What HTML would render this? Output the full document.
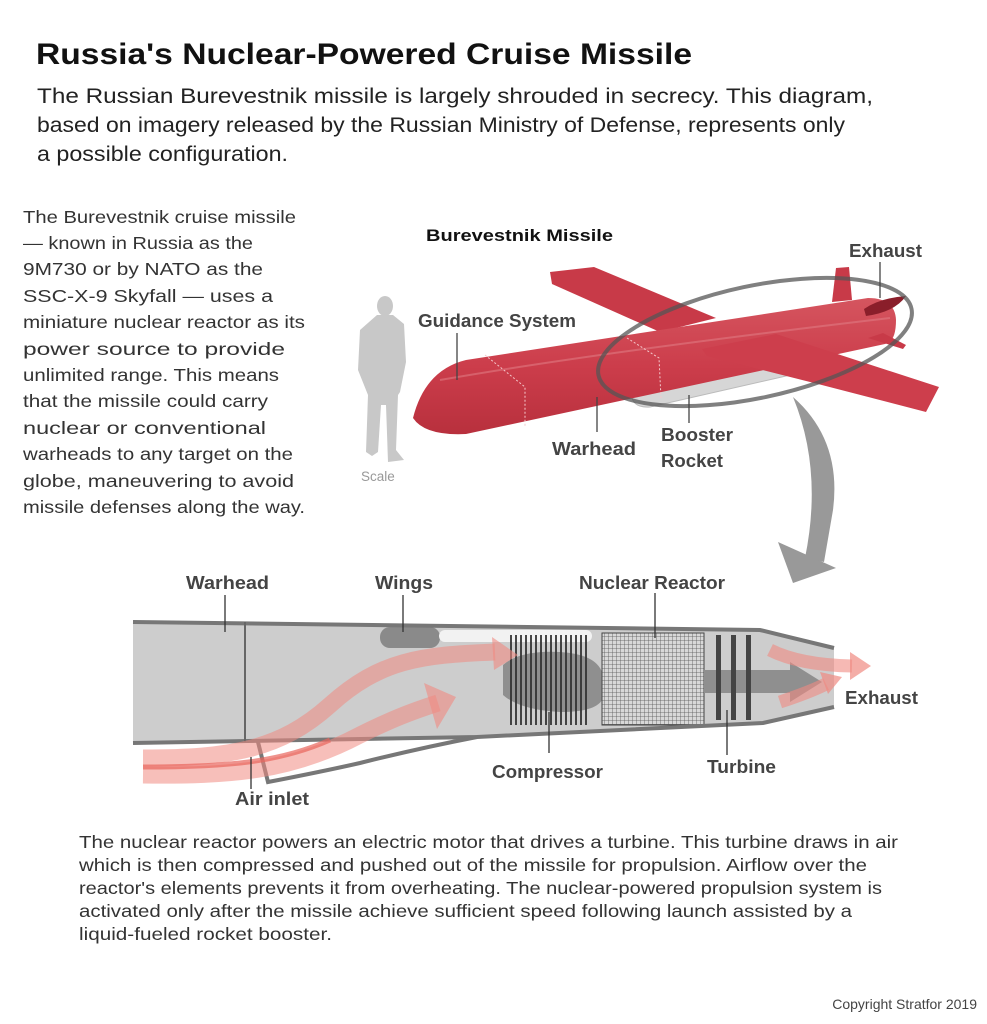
<!DOCTYPE html>
<html><head><meta charset="utf-8"><style>
html,body{margin:0;padding:0;background:#fff;}
svg{display:block;}
text{font-family:"Liberation Sans",sans-serif;}
</style></head><body>
<svg width="987" height="1024" viewBox="0 0 987 1024" xmlns="http://www.w3.org/2000/svg">
<defs>
<linearGradient id="body" x1="0" y1="0" x2="0" y2="1">
<stop offset="0" stop-color="#d5555f"/><stop offset="0.5" stop-color="#cc3d4b"/><stop offset="1" stop-color="#b8303d"/>
</linearGradient>
<pattern id="grid" width="4" height="4" patternUnits="userSpaceOnUse">
<rect width="4" height="4" fill="#d8d8d8"/><path d="M0 0H4M0 0V4" stroke="#555" stroke-width="0.8"/>
</pattern>
</defs>

<text x="36" y="64" font-size="30" font-weight="bold" fill="#111" textLength="656" lengthAdjust="spacingAndGlyphs">Russia's Nuclear-Powered Cruise Missile</text>
<text x="37" y="103" font-size="21" fill="#222" textLength="836" lengthAdjust="spacingAndGlyphs">The Russian Burevestnik missile is largely shrouded in secrecy. This diagram,</text>
<text x="37" y="132" font-size="21" fill="#222" textLength="808" lengthAdjust="spacingAndGlyphs">based on imagery released by the Russian Ministry of Defense, represents only</text>
<text x="37" y="161" font-size="21" fill="#222" textLength="251" lengthAdjust="spacingAndGlyphs">a possible configuration.</text>

<g font-size="17.5" fill="#333">
<text x="23" y="223" textLength="273" lengthAdjust="spacingAndGlyphs">The Burevestnik cruise missile</text>
<text x="23" y="249" textLength="230" lengthAdjust="spacingAndGlyphs">— known in Russia as the</text>
<text x="23" y="275" textLength="240" lengthAdjust="spacingAndGlyphs">9M730 or by NATO as the</text>
<text x="23" y="302" textLength="250" lengthAdjust="spacingAndGlyphs">SSC-X-9 Skyfall — uses a</text>
<text x="23" y="328" textLength="282" lengthAdjust="spacingAndGlyphs">miniature nuclear reactor as its</text>
<text x="23" y="355" textLength="262" lengthAdjust="spacingAndGlyphs">power source to provide</text>
<text x="23" y="381" textLength="256" lengthAdjust="spacingAndGlyphs">unlimited range. This means</text>
<text x="23" y="407" textLength="245" lengthAdjust="spacingAndGlyphs">that the missile could carry</text>
<text x="23" y="434" textLength="243" lengthAdjust="spacingAndGlyphs">nuclear or conventional</text>
<text x="23" y="460" textLength="270" lengthAdjust="spacingAndGlyphs">warheads to any target on the</text>
<text x="23" y="487" textLength="271" lengthAdjust="spacingAndGlyphs">globe, maneuvering to avoid</text>
<text x="23" y="513" textLength="282" lengthAdjust="spacingAndGlyphs">missile defenses along the way.</text>
</g>

<text x="426" y="241" font-size="17" font-weight="bold" fill="#111" textLength="187" lengthAdjust="spacingAndGlyphs">Burevestnik Missile</text>

<g fill="#c8c8c8">
<ellipse cx="385" cy="306" rx="8" ry="10"/>
<path d="M377,315 L393,315 L404,324 L406,362 L400,392 L398,395 L396,450 L404,460 L388,462 L386,405 L381,405 L378,452 L372,456 L366,452 L368,395 L362,380 L358,370 L360,330 Z"/>
</g>
<text x="361" y="481" font-size="13.5" fill="#999">Scale</text>

<polygon points="550,272 594,267 716,318 660,332 552,284" fill="#c83a48"/>
<polygon points="836,268 849,267 852,300 832,302" fill="#c83a48"/>
<path d="M632,398 Q635,408 650,407 L830,366 Q840,360 836,352 L640,392 Z" fill="#d6d6d6" stroke="#bbb" stroke-width="1"/>
<path d="M413,418 Q425,370 466,360 L868,298 Q895,298 896,320 Q896,342 885,344 L466,434 Q425,436 413,418 Z" fill="url(#body)"/>
<path d="M440,380 Q600,352 890,318" stroke="#e07a82" stroke-width="2" fill="none" opacity="0.6"/>
<path d="M485,355 L525,387 L525,426" stroke="#f4c8cc" stroke-width="1" stroke-dasharray="2,2" fill="none"/>
<path d="M627,338 L659,358 L661,398" stroke="#f4c8cc" stroke-width="1" stroke-dasharray="2,2" fill="none"/>
<path d="M864,309 Q880,298 906,296 Q895,312 866,316 Z" fill="#8a1e2a"/>
<polygon points="868,338 883,333 906,345 903,349" fill="#c83a48"/>
<polygon points="702,349 776,334 939,387 926,412 818,384 707,356" fill="#cd3e4c"/>
<ellipse cx="755" cy="342" rx="160" ry="56" transform="rotate(-12 755 342)" fill="none" stroke="#555" stroke-width="4" opacity="0.75"/>

<g stroke="#444" stroke-width="1.3">
<line x1="457" y1="333" x2="457" y2="380"/>
<line x1="597" y1="397" x2="597" y2="432"/>
<line x1="689" y1="395" x2="689" y2="423"/>
<line x1="880" y1="262" x2="880" y2="298"/>
</g>
<g font-size="18" font-weight="bold" fill="#444">
<text x="849" y="257" textLength="73" lengthAdjust="spacingAndGlyphs">Exhaust</text>
<text x="418" y="327" textLength="158" lengthAdjust="spacingAndGlyphs">Guidance System</text>
<text x="552" y="455" textLength="84" lengthAdjust="spacingAndGlyphs">Warhead</text>
<text x="661" y="441" textLength="72" lengthAdjust="spacingAndGlyphs">Booster</text>
<text x="661" y="467" textLength="62" lengthAdjust="spacingAndGlyphs">Rocket</text>
</g>

<path d="M793,397 Q842,440 833,510 L824,562 L805,558 Q823,470 793,397 Z" fill="#999"/>
<polygon points="778,542 836,568 793,583" fill="#999"/>

<path d="M133,622 L760,630 L834,648 L834,707 L763,723 L477,737 L133,743 Z" fill="#cdcdcd"/>
<path d="M258,742 L268,782 Q320,772 360,763 Q420,748 477,737 Z" fill="#fff"/>
<rect x="380" y="627" width="60" height="21" rx="10" fill="#8a8a8a"/>
<rect x="439" y="630" width="153" height="12" rx="6" fill="#f2f2f2"/>
<path d="M503,665 Q520,650 560,652 Q595,654 602,672 L602,700 Q595,712 560,712 Q520,710 503,695 Z" fill="#8f8f8f"/>
<rect x="602" y="633" width="102" height="92" fill="url(#grid)" stroke="#444" stroke-width="1"/>
<path d="M704,670 L790,670 L790,662 L822,682 L790,702 L790,693 L704,693 Z" fill="#8f8f8f"/>
<g stroke="#333" stroke-width="1.8">
<line x1="511" y1="635" x2="511" y2="725"/><line x1="516" y1="635" x2="516" y2="725"/><line x1="521" y1="635" x2="521" y2="725"/><line x1="526" y1="635" x2="526" y2="725"/><line x1="531" y1="635" x2="531" y2="725"/><line x1="536" y1="635" x2="536" y2="725"/><line x1="541" y1="635" x2="541" y2="725"/><line x1="546" y1="635" x2="546" y2="725"/><line x1="551" y1="635" x2="551" y2="725"/><line x1="556" y1="635" x2="556" y2="725"/><line x1="561" y1="635" x2="561" y2="725"/><line x1="566" y1="635" x2="566" y2="725"/><line x1="571" y1="635" x2="571" y2="725"/><line x1="576" y1="635" x2="576" y2="725"/><line x1="581" y1="635" x2="581" y2="725"/><line x1="586" y1="635" x2="586" y2="725"/>
</g>
<g fill="#444">
<rect x="716" y="635" width="5" height="85"/><rect x="731" y="635" width="5" height="85"/><rect x="746" y="635" width="5" height="85"/>
</g>
<g fill="none" stroke="#777" stroke-width="4" stroke-linejoin="miter">
<path d="M133,622 L760,630 L834,648"/>
<path d="M133,743 L477,737 L763,723 L834,707"/>
<path d="M258,742 L268,782 Q320,772 360,763 Q420,748 477,737"/>
</g>
<line x1="245" y1="622" x2="245" y2="742" stroke="#666" stroke-width="2"/>

<g fill="none" stroke="#f08a82" stroke-opacity="0.55" stroke-width="17">
<path d="M143,758 C230,758 280,750 330,705 C380,660 420,655 495,652"/>
<path d="M143,775 C230,776 290,772 360,735 C390,720 410,712 438,703"/>
</g>
<path d="M143,767 C230,767 280,762 330,740" fill="none" stroke="#e8655c" stroke-opacity="0.7" stroke-width="5"/>
<polygon points="492,637 518,655 494,670" fill="#f08a82" fill-opacity="0.6"/>
<polygon points="424,683 456,697 437,729" fill="#f08a82" fill-opacity="0.6"/>
<g fill="none" stroke="#f08a82" stroke-opacity="0.6" stroke-width="13">
<path d="M770,650 Q800,665 852,666"/>
<path d="M780,702 Q810,692 826,684"/>
</g>
<polygon points="850,652 871,666 850,680" fill="#f08a82" fill-opacity="0.7"/>
<polygon points="820,672 842,677 828,694" fill="#f08a82" fill-opacity="0.7"/>

<g stroke="#333" stroke-width="1.3">
<line x1="225" y1="595" x2="225" y2="632"/>
<line x1="403" y1="595" x2="403" y2="632"/>
<line x1="655" y1="593" x2="655" y2="638"/>
<line x1="549" y1="712" x2="549" y2="753"/>
<line x1="727" y1="710" x2="727" y2="755"/>
<line x1="251" y1="757" x2="251" y2="789"/>
</g>
<g font-size="18" font-weight="bold" fill="#444">
<text x="186" y="589" textLength="83" lengthAdjust="spacingAndGlyphs">Warhead</text>
<text x="375" y="589" textLength="58" lengthAdjust="spacingAndGlyphs">Wings</text>
<text x="579" y="589" textLength="146" lengthAdjust="spacingAndGlyphs">Nuclear Reactor</text>
<text x="492" y="778" textLength="111" lengthAdjust="spacingAndGlyphs">Compressor</text>
<text x="707" y="773" textLength="69" lengthAdjust="spacingAndGlyphs">Turbine</text>
<text x="845" y="704" textLength="73" lengthAdjust="spacingAndGlyphs">Exhaust</text>
<text x="235" y="805" textLength="74" lengthAdjust="spacingAndGlyphs">Air inlet</text>
</g>

<g font-size="17.5" fill="#333">
<text x="79" y="848" textLength="819" lengthAdjust="spacingAndGlyphs">The nuclear reactor powers an electric motor that drives a turbine. This turbine draws in air</text>
<text x="79" y="871" textLength="788" lengthAdjust="spacingAndGlyphs">which is then compressed and pushed out of the missile for propulsion. Airflow over the</text>
<text x="79" y="894" textLength="803" lengthAdjust="spacingAndGlyphs">reactor's elements prevents it from overheating. The nuclear-powered propulsion system is</text>
<text x="79" y="917" textLength="773" lengthAdjust="spacingAndGlyphs">activated only after the missile achieve sufficient speed following launch assisted by a</text>
<text x="79" y="940" textLength="253" lengthAdjust="spacingAndGlyphs">liquid-fueled rocket booster.</text>
</g>
<text x="977" y="1009" font-size="14" fill="#444" text-anchor="end">Copyright Stratfor 2019</text>
</svg>
</body></html>
